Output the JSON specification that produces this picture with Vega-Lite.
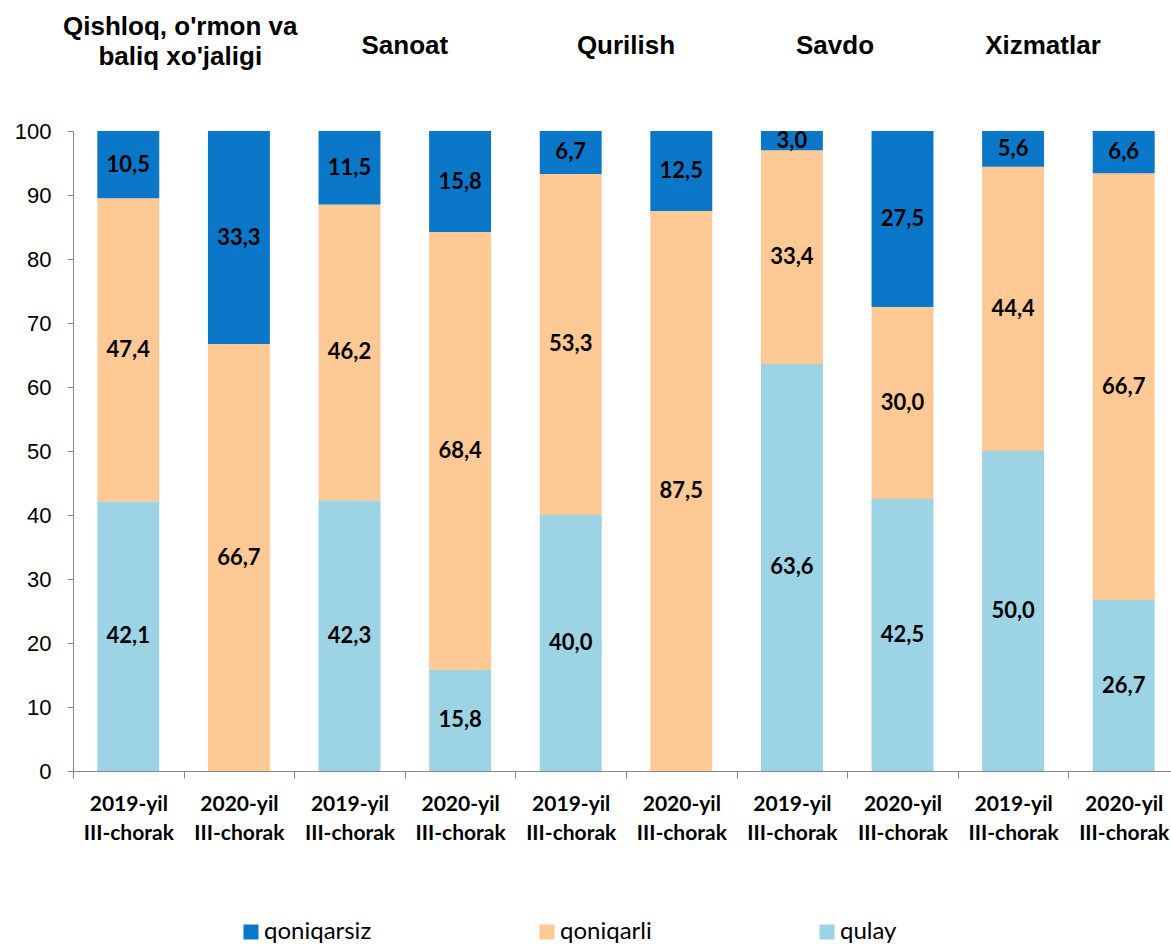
{
  "$schema": "https://vega.github.io/schema/vega-lite/v6.json",
  "autosize": {"type": "none"},
  "padding": {"left": 73, "top": 131, "right": 0, "bottom": 174},
  "width": 1098,
  "height": 640,
  "config": {
    "view": {"stroke": null},
    "locale": {"number": {"decimal": ",", "thousands": " ", "grouping": [3], "currency": ["", ""]}},
    "axis": {"domainColor": "#868686", "tickColor": "#868686", "grid": false}
  },
  "datasets": {
    "bars": [
      {"key": "A|2019", "s": "qulay", "v": 42.1, "r": 1},
      {"key": "A|2019", "s": "qoniqarli", "v": 47.4, "r": 2},
      {"key": "A|2019", "s": "qoniqarsiz", "v": 10.5, "r": 3},
      {"key": "A|2020", "s": "qulay", "v": 0, "r": 1},
      {"key": "A|2020", "s": "qoniqarli", "v": 66.7, "r": 2},
      {"key": "A|2020", "s": "qoniqarsiz", "v": 33.3, "r": 3},
      {"key": "B|2019", "s": "qulay", "v": 42.3, "r": 1},
      {"key": "B|2019", "s": "qoniqarli", "v": 46.2, "r": 2},
      {"key": "B|2019", "s": "qoniqarsiz", "v": 11.5, "r": 3},
      {"key": "B|2020", "s": "qulay", "v": 15.8, "r": 1},
      {"key": "B|2020", "s": "qoniqarli", "v": 68.4, "r": 2},
      {"key": "B|2020", "s": "qoniqarsiz", "v": 15.8, "r": 3},
      {"key": "C|2019", "s": "qulay", "v": 40.0, "r": 1},
      {"key": "C|2019", "s": "qoniqarli", "v": 53.3, "r": 2},
      {"key": "C|2019", "s": "qoniqarsiz", "v": 6.7, "r": 3},
      {"key": "C|2020", "s": "qulay", "v": 0, "r": 1},
      {"key": "C|2020", "s": "qoniqarli", "v": 87.5, "r": 2},
      {"key": "C|2020", "s": "qoniqarsiz", "v": 12.5, "r": 3},
      {"key": "D|2019", "s": "qulay", "v": 63.6, "r": 1},
      {"key": "D|2019", "s": "qoniqarli", "v": 33.4, "r": 2},
      {"key": "D|2019", "s": "qoniqarsiz", "v": 3.0, "r": 3},
      {"key": "D|2020", "s": "qulay", "v": 42.5, "r": 1},
      {"key": "D|2020", "s": "qoniqarli", "v": 30.0, "r": 2},
      {"key": "D|2020", "s": "qoniqarsiz", "v": 27.5, "r": 3},
      {"key": "E|2019", "s": "qulay", "v": 50.0, "r": 1},
      {"key": "E|2019", "s": "qoniqarli", "v": 44.4, "r": 2},
      {"key": "E|2019", "s": "qoniqarsiz", "v": 5.6, "r": 3},
      {"key": "E|2020", "s": "qulay", "v": 26.7, "r": 1},
      {"key": "E|2020", "s": "qoniqarli", "v": 66.7, "r": 2},
      {"key": "E|2020", "s": "qoniqarsiz", "v": 6.6, "r": 3}
    ],
    "titles": [
      {"key": "A|2019", "t": "Qishloq, o'rmon va\nbaliq xo'jaligi", "grp": 0},
      {"key": "B|2019", "t": "Sanoat", "grp": 1},
      {"key": "C|2019", "t": "Qurilish", "grp": 1},
      {"key": "D|2019", "t": "Savdo", "grp": 2},
      {"key": "E|2019", "t": "Xizmatlar", "grp": 3}
    ]
  },
  "data": {"name": "bars"},
  "layer": [
    {
      "mark": {"type": "bar", "width": {"band": 0.56}},
      "encoding": {
        "x": {
          "field": "key", "type": "nominal", "sort": null,
          "scale": {"range": [0, 1106], "paddingInner": 0, "paddingOuter": 0},
          "axis": {
            "title": null, "labelAngle": 0, "tickBand": "extent", "tickSize": 7,
            "labelExpr": "datum.value ? [split(datum.value,'|')[1] + '-yil', 'III-chorak'] : ''",
            "labelFont": "Lato", "labelFontWeight": "bold", "labelFontSize": 21,
            "labelLineHeight": 29, "labelPadding": 15, "labelColor": "#000000", "labelBaseline": "top"
          }
        },
        "y": {
          "field": "v", "type": "quantitative", "stack": "zero",
          "scale": {"domain": [0, 100], "nice": false},
          "axis": {
            "title": null, "values": [0, 10, 20, 30, 40, 50, 60, 70, 80, 90, 100],
            "tickSize": 6, "labelPadding": 16, "labelFont": "Liberation Sans",
            "labelFontSize": 22, "labelColor": "#000000", "format": "d"
          }
        },
        "color": {
          "field": "s", "type": "nominal",
          "scale": {"domain": ["qoniqarsiz", "qoniqarli", "qulay"], "range": ["#0B77C9", "#FEC994", "#9DD4E5"]},
          "legend": {
            "title": null, "orient": "none", "direction": "horizontal",
            "legendX": 166, "legendY": 789, "padding": 0,
            "symbolType": "square", "symbolSize": 225, "symbolStrokeWidth": 0,
            "labelFont": "Lato", "labelFontSize": 24, "labelColor": "#000000",
            "labelOffset": 1, "columnPadding": 163, "labelLimit": 300
          }
        },
        "order": {"field": "r", "type": "quantitative"}
      }
    },
    {
      "transform": [
        {"stack": "v", "groupby": ["key"], "sort": [{"field": "r", "order": "ascending"}], "as": ["y0", "y1"]},
        {"calculate": "(datum.y0 + datum.y1) / 2", "as": "mid"},
        {"filter": "datum.v > 0"}
      ],
      "mark": {"type": "text", "font": "Lato", "fontWeight": "bold", "fontSize": 22, "color": "#000000", "baseline": "middle", "align": "center"},
      "encoding": {
        "x": {"field": "key", "type": "nominal", "sort": null},
        "y": {"field": "mid", "type": "quantitative"},
        "text": {"field": "v", "type": "quantitative", "format": ".1f"}
      }
    },
    {
      "data": {"name": "titles"},
      "transform": [{"filter": "datum.grp == 0"}],
      "mark": {"type": "text", "font": "Liberation Sans", "fontWeight": "bold", "fontSize": 26, "color": "#000000", "baseline": "middle", "align": "center", "lineBreak": "\n", "lineHeight": 30},
      "encoding": {
        "x": {"field": "key", "type": "nominal", "sort": null, "bandPosition": 0.97},
        "y": {"datum": 116.2},
        "text": {"field": "t"}
      }
    },
    {
      "data": {"name": "titles"},
      "transform": [{"filter": "datum.grp == 1"}],
      "mark": {"type": "text", "font": "Liberation Sans", "fontWeight": "bold", "fontSize": 26, "color": "#000000", "baseline": "middle", "align": "center"},
      "encoding": {
        "x": {"field": "key", "type": "nominal", "sort": null, "bandPosition": 1},
        "y": {"datum": 113.3},
        "text": {"field": "t"}
      }
    },
    {
      "data": {"name": "titles"},
      "transform": [{"filter": "datum.grp == 2"}],
      "mark": {"type": "text", "font": "Liberation Sans", "fontWeight": "bold", "fontSize": 26, "color": "#000000", "baseline": "middle", "align": "center"},
      "encoding": {
        "x": {"field": "key", "type": "nominal", "sort": null, "bandPosition": 0.89},
        "y": {"datum": 113.3},
        "text": {"field": "t"}
      }
    },
    {
      "data": {"name": "titles"},
      "transform": [{"filter": "datum.grp == 3"}],
      "mark": {"type": "text", "font": "Liberation Sans", "fontWeight": "bold", "fontSize": 26, "color": "#000000", "baseline": "middle", "align": "center"},
      "encoding": {
        "x": {"field": "key", "type": "nominal", "sort": null, "bandPosition": 0.77},
        "y": {"datum": 113.3},
        "text": {"field": "t"}
      }
    }
  ]
}
